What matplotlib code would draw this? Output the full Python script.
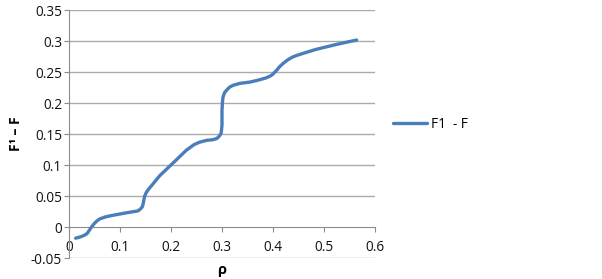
import matplotlib
matplotlib.use("Agg")
import matplotlib.pyplot as plt

plt.rcParams['font.family'] = ['Open Sans', 'DejaVu Sans']

rho = [0.013, 0.022, 0.031, 0.036, 0.040, 0.045, 0.050, 0.055, 0.060, 0.070, 0.080,
       0.093, 0.106, 0.120, 0.135, 0.140, 0.144, 0.146, 0.148, 0.151, 0.155, 0.162,
       0.178, 0.201, 0.230, 0.245, 0.256, 0.270, 0.282, 0.290, 0.295, 0.298, 0.299,
       0.300, 0.300, 0.301, 0.302, 0.305, 0.309, 0.315, 0.322, 0.335, 0.354, 0.370,
       0.387, 0.395, 0.400, 0.407, 0.413, 0.421, 0.429, 0.437, 0.446, 0.465, 0.485,
       0.525, 0.564]
f_diff = [-0.018, -0.016, -0.013, -0.010, -0.005, 0.001, 0.006, 0.010, 0.013, 0.016, 0.018,
          0.020, 0.022, 0.024, 0.026, 0.029, 0.033, 0.040, 0.049, 0.055, 0.060, 0.067,
          0.083, 0.101, 0.124, 0.133, 0.137, 0.140, 0.141, 0.143, 0.147, 0.151, 0.156,
          0.165, 0.189, 0.203, 0.210, 0.217, 0.221, 0.226, 0.229, 0.232, 0.234, 0.237,
          0.241, 0.244, 0.247, 0.253, 0.259, 0.265, 0.270, 0.274, 0.277, 0.282, 0.287,
          0.295, 0.302]

series_name = "F1  - F"
x_ticks = [0, 0.1, 0.2, 0.3, 0.4, 0.5, 0.6]
x_tick_labels = ["0", "0.1", "0.2", "0.3", "0.4", "0.5", "0.6"]
y_ticks = [-0.05, 0, 0.05, 0.1, 0.15, 0.2, 0.25, 0.3, 0.35]
y_tick_labels = ["-0.05", "0", "0.05", "0.1", "0.15", "0.2", "0.25", "0.3", "0.35"]

fig = plt.figure(figsize=(6.02, 2.79), dpi=100)
ax = fig.add_axes([69 / 602, 21 / 279, (375 - 69) / 602, (258 - 10.3) / 279])

grid_c = "#ABABAB"
ax.set_xlim(0, 0.6)
ax.set_ylim(-0.05, 0.35)
for yv in y_ticks:
    if yv != 0:
        ax.axhline(yv, color=grid_c, lw=1.0, zorder=1)

ax.plot(rho, f_diff, color="#4A7EBB", lw=2.4, solid_joinstyle="round",
        solid_capstyle="round", zorder=3, label=series_name)

for s in ["top", "right"]:
    ax.spines[s].set_visible(False)
ax.spines["bottom"].set_position(("data", 0))
ax.spines["bottom"].set_color("#8C8C8C")
ax.spines["left"].set_color("#8C8C8C")
ax.spines["bottom"].set_zorder(2)

ax.set_xticks(x_ticks)
ax.set_xticklabels(x_tick_labels)
ax.set_yticks(y_ticks)
ax.set_yticklabels(y_tick_labels)
ax.tick_params(axis="x", direction="out", length=3.5, width=0.8, color="#8C8C8C",
               pad=6, labelsize=9.8, labelcolor="#111111")
ax.tick_params(axis="y", direction="out", length=3.5, width=0.8, color="#8C8C8C",
               pad=1.5, labelsize=9.8, labelcolor="#111111")

fig.text(16 / 602, 1 - 134 / 279, "F\u00b9 \u2013 F", rotation=90, ha="center",
         va="center", fontsize=10, fontweight="bold")
fig.text(222 / 602, 1 - 270 / 279, "\u03c1", ha="center", va="center",
         fontsize=10.5, fontweight="bold")

leg = fig.legend(loc="center left", bbox_to_anchor=(388 / 602, 1 - 124 / 279),
                 frameon=False, fontsize=9.8, handlelength=2.5, handletextpad=0.25,
                 borderaxespad=0)

fig.savefig("out.png", dpi=100)
